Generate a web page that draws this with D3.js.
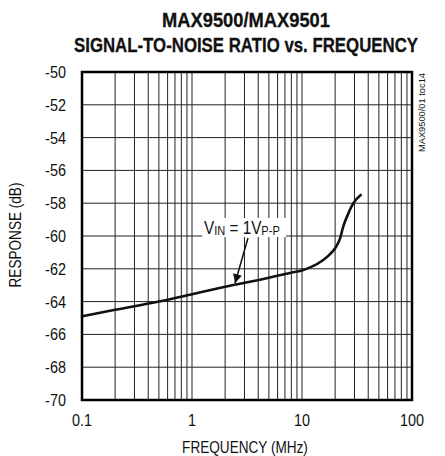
<!DOCTYPE html>
<html>
<head>
<meta charset="utf-8">
<script src="https://cdn.jsdelivr.net/npm/d3@7"></script>
<style>
  body { margin: 0; background: #fff; }
  svg { display: block; }
  text { font-family: "Liberation Sans", Arial, sans-serif; fill: #111; }
</style>
</head>
<body>
<div id="chart"></div>
<script>
// data
const freqMHz = [0.1, 0.2, 0.5, 1, 2, 5, 7.8, 10, 12, 15.6, 18, 20, 22.2, 23.7, 26.4, 29.3, 34.2];
const responseDb = [-64.9, -64.5, -64.0, -63.55, -63.1, -62.55, -62.25, -62.1, -61.9, -61.46, -61.1, -60.75, -60.14, -59.43, -58.62, -58.0, -57.5];
const yTicks = [-50, -52, -54, -56, -58, -60, -62, -64, -66, -68, -70];
const xTicks = [0.1, 1, 10, 100];

const width = 445, height = 456;
const margin = { top: 72, right: 33, bottom: 56, left: 82 };
const innerWidth = width - margin.left - margin.right;
const innerHeight = height - margin.top - margin.bottom;
const squeeze = 0.85; // Helvetica Condensed look-alike

const svg = d3.select("#chart").append("svg")
  .attr("width", width)
  .attr("height", height);

const x = d3.scaleLog().domain([0.1, 100]).range([margin.left, margin.left + innerWidth]);
const y = d3.scaleLinear().domain([-70, -50]).range([margin.top + innerHeight, margin.top]);

// narrow text placed in page coordinates; align 0 = start, 0.5 = middle, 1 = end
function narrow(sel, px, py, align = 0) {
  sel.attr("transform", `scale(${squeeze},1)`).attr("y", py).attr("x", px / squeeze);
  if (align) {
    const w = sel.node().getComputedTextLength();
    sel.attr("x", px / squeeze - w * align);
  }
  return sel;
}

svg.append("text")
  .attr("x", 246).attr("y", 27)
  .attr("text-anchor", "middle")
  .attr("font-size", 21).attr("font-weight", 700)
  .attr("stroke", "#111").attr("stroke-width", 0.3)
  .attr("textLength", 168).attr("lengthAdjust", "spacingAndGlyphs")
  .text("MAX9500/MAX9501");
svg.append("text")
  .attr("x", 246).attr("y", 52)
  .attr("text-anchor", "middle")
  .attr("font-size", 21).attr("font-weight", 700)
  .attr("stroke", "#111").attr("stroke-width", 0.3)
  .attr("textLength", 344).attr("lengthAdjust", "spacingAndGlyphs")
  .text("SIGNAL-TO-NOISE RATIO vs. FREQUENCY");

// log grid: 2..9 in each decade plus the decades
const minor = [];
[0.1, 1, 10].forEach((dec) => {
  for (let k = 2; k <= 9; k++) minor.push(dec * k);
});
[1, 10].forEach((v) => minor.push(v));

svg.append("g")
  .selectAll("line")
  .data(minor)
  .join("line")
  .attr("x1", (d) => x(d)).attr("x2", (d) => x(d))
  .attr("y1", y(-50)).attr("y2", y(-70))
  .attr("stroke", "#222").attr("stroke-width", 1);

svg.append("g")
  .selectAll("line")
  .data(yTicks.slice(1, -1))
  .join("line")
  .attr("x1", x(0.1)).attr("x2", x(100))
  .attr("y1", (d) => y(d)).attr("y2", (d) => y(d))
  .attr("stroke", "#222").attr("stroke-width", 1);

// curve
const line = d3.line()
  .x((d, i) => x(freqMHz[i]))
  .y((d) => y(d))
  .curve(d3.curveMonotoneX);

svg.append("path")
  .datum(responseDb)
  .attr("fill", "none")
  .attr("stroke", "#111")
  .attr("stroke-width", 2.6)
  .attr("stroke-linecap", "round")
  .attr("d", line);

// annotation
svg.append("rect")
  .attr("x", 202).attr("y", 218)
  .attr("width", 84).attr("height", 19)
  .attr("fill", "#fff");
const t = narrow(svg.append("text"), 204, 234)
  .attr("font-size", 18);
t.append("tspan").text("V");
t.append("tspan").attr("font-size", 13).attr("dy", 1).text("IN");
t.append("tspan").attr("dy", -1).text(" = 1V");
t.append("tspan").attr("font-size", 13).attr("dy", 1).text("P-P");

svg.append("defs").append("marker")
  .attr("id", "arrow")
  .attr("viewBox", "0 0 10 10")
  .attr("refX", 10).attr("refY", 5)
  .attr("markerWidth", 15).attr("markerHeight", 9)
  .attr("markerUnits", "userSpaceOnUse")
  .attr("orient", "auto")
  .append("path")
  .attr("d", "M0,0 L10,5 L0,10 Z")
  .attr("fill", "#111");

svg.append("line")
  .attr("x1", 248).attr("y1", 238)
  .attr("x2", x(2.46)).attr("y2", y(-63.0) - 2)
  .attr("stroke", "#111").attr("stroke-width", 1.5)
  .attr("marker-end", "url(#arrow)");

// frame
svg.append("rect")
  .attr("x", margin.left).attr("y", margin.top)
  .attr("width", innerWidth).attr("height", innerHeight)
  .attr("fill", "none")
  .attr("stroke", "#000").attr("stroke-width", 2.5);

// tick labels
svg.append("g")
  .selectAll("text")
  .data(yTicks)
  .join("text")
  .attr("font-size", 17)
  .text((d) => d)
  .each(function (d) { narrow(d3.select(this), margin.left - 16, y(d) + 6, 1); });

svg.append("g")
  .selectAll("text")
  .data(xTicks)
  .join("text")
  .attr("font-size", 17)
  .text((d) => d)
  .each(function (d) { narrow(d3.select(this), x(d), margin.top + innerHeight + 26, 0.5); });

narrow(svg.append("text").attr("font-size", 16).text("FREQUENCY (MHz)"),
  margin.left + innerWidth / 2 - 2, margin.top + innerHeight + 53, 0.5);

svg.append("text")
  .attr("transform", `translate(21,${margin.top + innerHeight / 2 - 1}) rotate(-90) scale(${squeeze},1)`)
  .attr("text-anchor", "middle")
  .attr("font-size", 16)
  .text("RESPONSE (dB)");

svg.append("text")
  .attr("transform", "translate(425,73) rotate(-90)")
  .attr("text-anchor", "end")
  .attr("font-size", 9)
  .attr("textLength", 79).attr("lengthAdjust", "spacingAndGlyphs")
  .text("MAX9500/01 toc14");
</script>
</body>
</html>
